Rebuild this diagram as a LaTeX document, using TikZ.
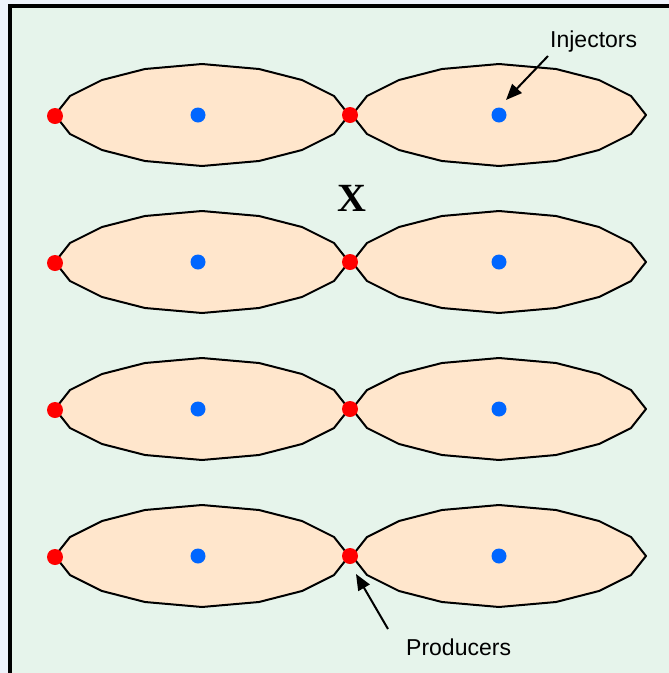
\documentclass[tikz,border=0pt]{standalone}
\usepackage{fontspec}
\setmainfont{Liberation Sans}
\newfontfamily\serifx{Liberation Serif}
\usetikzlibrary{arrows.meta}
\definecolor{outerbg}{HTML}{EEF3FB}
\definecolor{bgmint}{HTML}{E6F4EB}
\definecolor{lensfill}{HTML}{FFE6CC}
\definecolor{dotred}{HTML}{FF0000}
\definecolor{dotblue}{HTML}{0066FF}
\tikzset{
  lensshape/.style={draw=black, fill=lensfill, line width=2pt, line join=round},
  reddot/.style={circle, fill=dotred, inner sep=0pt, minimum size=16pt},
  bluedot/.style={circle, fill=dotblue, inner sep=0pt, minimum size=15pt},
  lbl/.style={inner sep=0pt, font=\fontsize{23}{27}\selectfont},
  arr/.style={line width=2pt, -{Triangle[length=16pt,width=13pt]}},
}
\newcommand\mylens[2]{%
  \path[lensshape] (#1,#2) ++(-147,0) -- ++(15,-19) -- ++(32,-16) -- ++(43,-11) -- ++(57,-5)
    -- ++(57,5) -- ++(43,11) -- ++(32,16) -- ++(15,19)
    -- ++(-15,19) -- ++(-32,16) -- ++(-43,11) -- ++(-57,5)
    -- ++(-57,-5) -- ++(-43,-11) -- ++(-32,-16) -- cycle;}
\begin{document}
\begin{tikzpicture}[x=1pt,y=-1pt]
\useasboundingbox (0,0) rectangle (669,673);
\fill[outerbg] (0,0) rectangle (669,673);
\fill[bgmint] (10,6) rectangle (669,673);
\draw[line width=3.5pt] (10,673) -- (10,6) -- (669,6);
% lenses
\foreach \yy [count=\i] in {115,262,409,556} {
  \mylens{202}{\yy}
  \mylens{499}{\yy}
}
% dots
\foreach \yy [count=\i] in {115,262,409,556} {
  \node[reddot] (pl\i) at (55,\yy+1) {};
  \node[reddot] (pm\i) at (350,\yy) {};
  \node[bluedot] (il\i) at (198,\yy) {};
  \node[bluedot] (ir\i) at (499,\yy) {};
}
% X
\node[inner sep=0pt, anchor=base, font=\serifx\bfseries\fontsize{40}{44}\selectfont] (xmark) at (352,211) {X};
% labels
\node[lbl, anchor=base west] (inj) at (550,47) {Injectors};
\node[lbl, anchor=base west] (prod) at (406,655) {Producers};
\coordinate (injs) at (548,56);
\coordinate (injt) at (506,100);
\coordinate (prods) at (388,629);
\coordinate (prodt) at (356,574);
\draw[arr] (injs) -- (injt);
\draw[arr] (prods) -- (prodt);
\end{tikzpicture}
\end{document}
